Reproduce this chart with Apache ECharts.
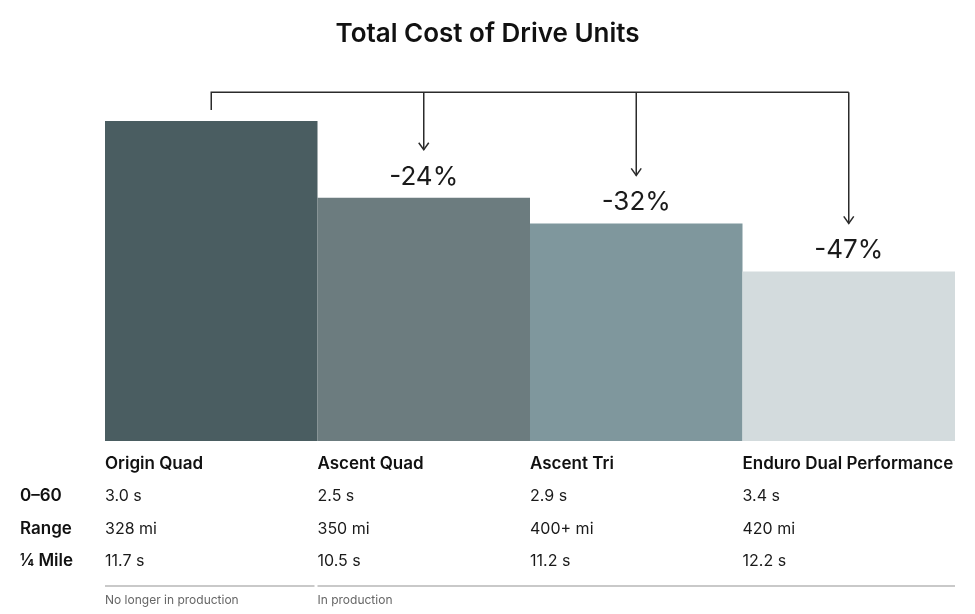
<!DOCTYPE html>
<html>
<head>
<meta charset="utf-8">
<script src="https://cdn.jsdelivr.net/npm/echarts@6/dist/echarts.min.js"></script>
<style>html,body{margin:0;padding:0;background:#fff}#c{width:975px;height:614px}</style>
</head>
<body>
<div id="c"></div>
<script>
// ---- data ----
var categories = ['Origin Quad', 'Ascent Quad', 'Ascent Tri', 'Enduro Dual Performance'];
var relativeCost = [100, 76, 68, 53];
var changeLabels = ['', '-24%', '-32%', '-47%'];
var barColors = ['#4a5d61', '#6c7c7f', '#7f979d', '#d3dbdd'];
var rowHeaders = ['0\u201360', 'Range', '\u00bc Mile'];
var zeroToSixty = ['3.0 s', '2.5 s', '2.9 s', '3.4 s'];
var rangeMi = ['328 mi', '350 mi', '400+ mi', '420 mi'];
var quarterMile = ['11.7 s', '10.5 s', '11.2 s', '12.2 s'];
var noteGroups = [
  { label: 'No longer in production', from: 0, to: 0 },
  { label: 'In production', from: 1, to: 3 }
];
var bracketLevel = 109;

var FONT = 'Inter, "Noto Sans", sans-serif';
var chart = echarts.init(document.getElementById('c'));

function annotate(params, api) {
  var i = api.value(0);
  var v = api.value(1);
  var p = api.coord([i, v]);
  var by = api.coord([i, bracketLevel])[1];
  var children = [];
  var st = { stroke: '#2b2b2b', lineWidth: 1.5, fill: null };
  if (i === 0) {
    var xEnd = api.coord([categories.length - 1, 0])[0];
    children.push({ type: 'polyline', shape: { points: [[p[0], p[1] - 11], [p[0], by], [xEnd, by]] }, style: st });
  } else {
    var tip = p[1] - 48;
    children.push({ type: 'line', shape: { x1: p[0], y1: by, x2: p[0], y2: tip }, style: st });
    children.push({ type: 'polyline', shape: { points: [[p[0] - 5, tip - 7], [p[0], tip], [p[0] + 5, tip - 7]] }, style: st });
    children.push({ type: 'text', style: { text: changeLabels[i], x: p[0], y: p[1] - 21, align: 'center', verticalAlign: 'middle', fill: '#1a1a1a', font: '400 26px ' + FONT } });
  }
  return { type: 'group', children: children };
}

function table(params, api) {
  var i = api.value(0);
  var c = api.coord([i, 0]);
  var bw = api.size([1, 0])[0];
  var left = c[0] - bw / 2;
  var base = c[1];
  var ch = [];
  function txt(t, x, y, font, color) {
    ch.push({ type: 'text', style: { text: t, x: x, y: y, align: 'left', verticalAlign: 'middle', fill: color, font: font } });
  }
  var rowY = [55, 88, 120];
  txt(categories[i], left, base + 23, '600 17px ' + FONT, '#111');
  txt(zeroToSixty[i], left, base + rowY[0], '400 16px ' + FONT, '#1a1a1a');
  txt(rangeMi[i], left, base + rowY[1], '400 16px ' + FONT, '#1a1a1a');
  txt(quarterMile[i], left, base + rowY[2], '400 16px ' + FONT, '#1a1a1a');
  if (i === 0) {
    for (var r = 0; r < rowHeaders.length; r++) {
      txt(rowHeaders[r], left - 85, base + rowY[r], '600 17px ' + FONT, '#111');
    }
  }
  noteGroups.forEach(function (g) {
    if (g.from === i) {
      var span = (g.to - g.from + 1) * bw;
      var x2 = g.to === categories.length - 1 ? left + span : left + span - 3;
      ch.push({ type: 'line', shape: { x1: left, y1: base + 145, x2: x2, y2: base + 145 }, style: { stroke: '#c9c9c9', lineWidth: 2 } });
      txt(g.label, left, base + 159, '400 12px ' + FONT, '#666');
    }
  });
  return { type: 'group', children: ch };
}

chart.setOption({
  animation: false,
  title: {
    text: 'Total Cost of Drive Units',
    left: 'center',
    top: 16,
    textStyle: { fontFamily: FONT, fontSize: 26, fontWeight: 600, color: '#111' }
  },
  grid: { left: 105, right: 20, top: 121, bottom: 173 },
  xAxis: {
    type: 'category',
    data: categories,
    show: false
  },
  yAxis: { type: 'value', min: 0, max: 100, show: false },
  series: [
    {
      type: 'bar',
      barWidth: '100%',
      barCategoryGap: '0%',
      data: relativeCost.map(function (v, i) { return { value: v, itemStyle: { color: barColors[i] } }; })
    },
    {
      type: 'custom',
      renderItem: annotate,
      clip: false,
      silent: true,
      data: relativeCost.map(function (v, i) { return [i, v]; }),
      z: 5
    },
    {
      type: 'custom',
      renderItem: table,
      clip: false,
      silent: true,
      data: categories.map(function (c, i) { return [i, 0]; }),
      z: 5
    }
  ]
});
</script>
</body>
</html>
